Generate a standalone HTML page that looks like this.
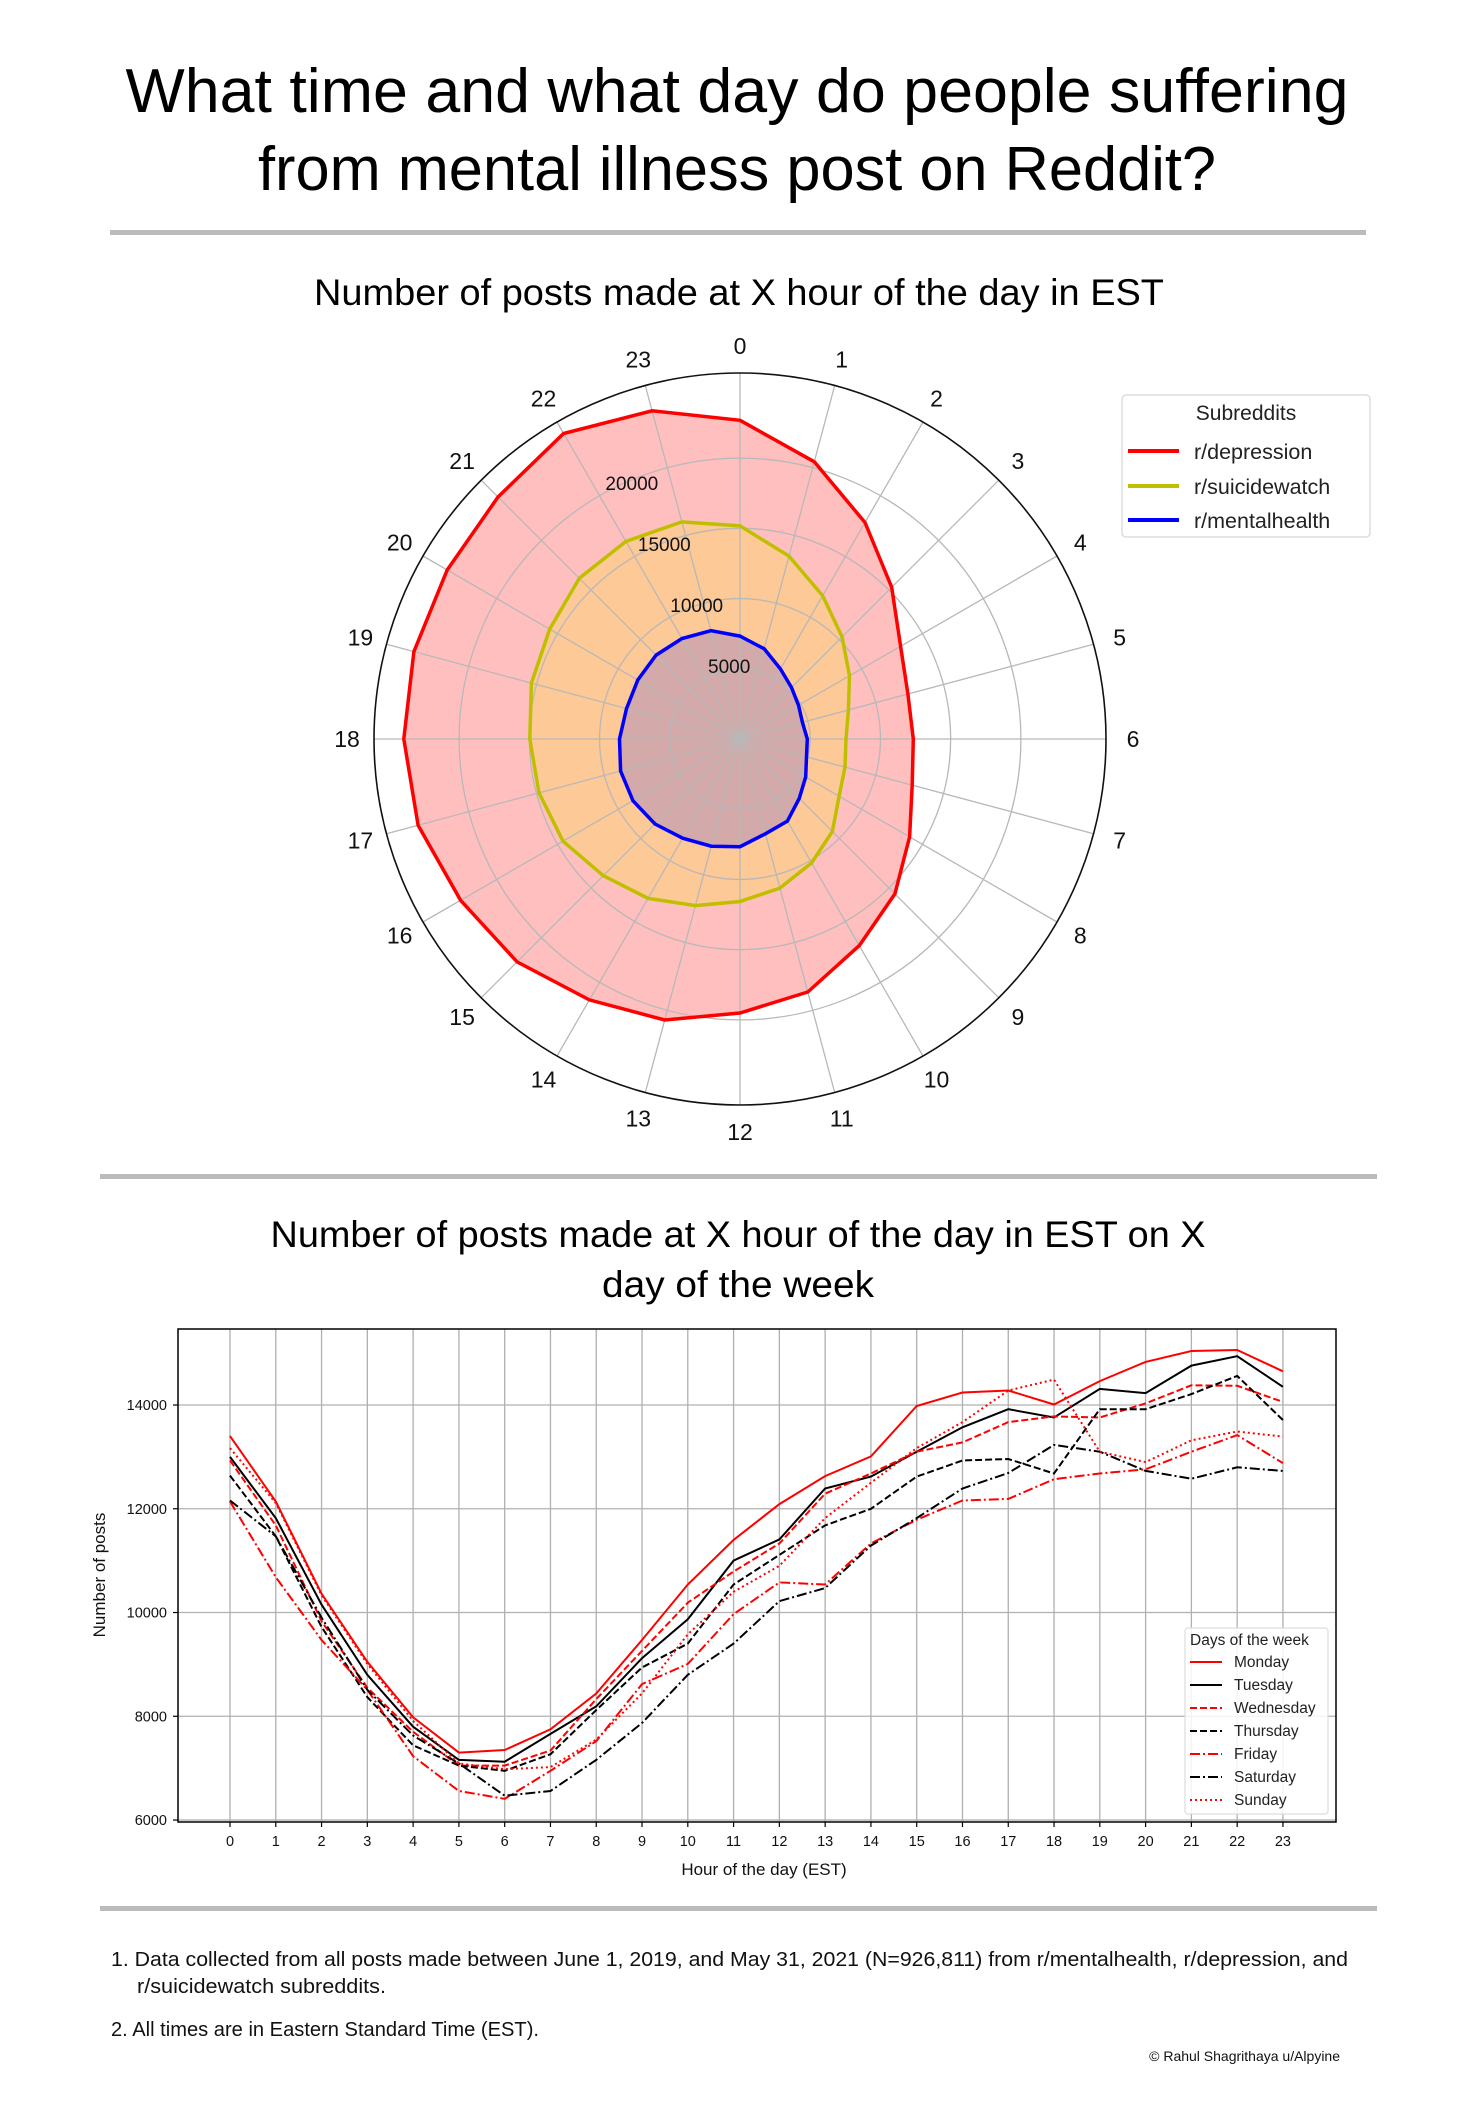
<!DOCTYPE html>
<html><head><meta charset="utf-8">
<style>
html,body{margin:0;padding:0;background:#fff;}
svg{display:block;font-family:"Liberation Sans","DejaVu Sans",sans-serif;}
</style></head>
<body>
<svg id="page" width="1476" height="2119" viewBox="0 0 1476 2119" xmlns="http://www.w3.org/2000/svg">
<rect x="0" y="0" width="1476" height="2119" fill="#fff"/>
<text x="737" y="112" text-anchor="middle" font-size="62" textLength="1223" lengthAdjust="spacingAndGlyphs" fill="#000">What time and what day do people suffering</text>
<text x="737" y="190" text-anchor="middle" font-size="62" textLength="958" lengthAdjust="spacingAndGlyphs" fill="#000">from mental illness post on Reddit?</text>
<rect x="110" y="230" width="1256" height="5" fill="#bbb"/>
<text x="739" y="305" text-anchor="middle" font-size="37" textLength="850" lengthAdjust="spacingAndGlyphs" fill="#000">Number of posts made at X hour of the day in EST</text>
<g id="radar"></g>
<g>
<rect x="1122" y="395" width="248" height="142" rx="4" fill="#fff" stroke="#ddd" stroke-width="1.5"/>
<text x="1246" y="420" text-anchor="middle" font-size="21" fill="#222">Subreddits</text>
<line x1="1128" y1="451" x2="1179" y2="451" stroke="#f00" stroke-width="4"/>
<text x="1194" y="459" font-size="21.5" fill="#222">r/depression</text>
<line x1="1128" y1="486" x2="1179" y2="486" stroke="#bfbf00" stroke-width="4"/>
<text x="1194" y="494" font-size="21.5" fill="#222">r/suicidewatch</text>
<line x1="1128" y1="520" x2="1179" y2="520" stroke="#00f" stroke-width="4"/>
<text x="1194" y="528" font-size="21.5" fill="#222">r/mentalhealth</text>
</g>
<rect x="100" y="1174" width="1277" height="5" fill="#bbb"/>
<text x="738" y="1247" text-anchor="middle" font-size="37" textLength="935" lengthAdjust="spacingAndGlyphs" fill="#000">Number of posts made at X hour of the day in EST on X</text>
<text x="738" y="1297" text-anchor="middle" font-size="37" textLength="272" lengthAdjust="spacingAndGlyphs" fill="#000">day of the week</text>
<g id="linechart"></g>
<g>
<rect x="1185" y="1628" width="143" height="186" rx="3" fill="#fff" fill-opacity="0.85" stroke="#ddd" stroke-width="1.2"/>
<text x="1190" y="1645" font-size="15.5" fill="#222">Days of the week</text>
<g id="lineLegendEntries"></g>
</g>
<rect x="100" y="1906" width="1277" height="5" fill="#bbb"/>
<text x="111" y="1966" font-size="20" textLength="1237" lengthAdjust="spacingAndGlyphs" fill="#111">1. Data collected from all posts made between June 1, 2019, and May 31, 2021 (N=926,811) from r/mentalhealth, r/depression, and</text>
<text x="137" y="1993" font-size="20" textLength="249" lengthAdjust="spacingAndGlyphs" fill="#111">r/suicidewatch subreddits.</text>
<text x="111" y="2036" font-size="20" textLength="428" lengthAdjust="spacingAndGlyphs" fill="#111">2. All times are in Eastern Standard Time (EST).</text>
<text x="1340" y="2061" text-anchor="end" font-size="14" fill="#111">© Rahul Shagrithaya u/Alpyine</text>
</svg>
<script>
// ---------- Radar chart data ----------
const radarHours = [0,1,2,3,4,5,6,7,8,9,10,11,12,13,14,15,16,17,18,19,20,21,22,23];
const depression = [22690,20430,17800,15280,13200,12380,12340,12690,13940,15600,16990,18650,19510,20710,21450,22440,22970,23730,23940,24040,24070,24370,25120,24190];
const suicidewatch = [15170,13480,11770,10280,9000,7990,7550,7740,8150,9300,10190,10990,11570,12280,13100,13770,14550,14820,14970,15380,15650,16180,16250,16000];
const mentalhealth = [7330,6650,5760,5190,4810,4600,4790,4900,5400,5970,6750,6990,7670,7900,8160,8560,8800,8800,8580,8370,8400,8450,8260,7980];
const ringValues = [5000,10000,15000,20000];
const ringLabels = ["5000","10000","15000","20000"];

// ---------- Line chart data ----------
const lineHours = [0,1,2,3,4,5,6,7,8,9,10,11,12,13,14,15,16,17,18,19,20,21,22,23];
const yTicks = [6000,8000,10000,12000,14000];
const yTickLabels = ["6000","8000","10000","12000","14000"];
const dayNames = ["Monday","Tuesday","Wednesday","Thursday","Friday","Saturday","Sunday"];
const monday = [13400,12140,10360,9050,7980,7300,7350,7750,8440,9470,10540,11400,12090,12630,13010,13980,14240,14280,14010,14460,14830,15040,15060,14650];
const tuesday = [13000,11820,10150,8800,7800,7160,7125,7660,8190,9120,9870,11000,11410,12390,12620,13100,13570,13920,13760,14310,14230,14760,14940,14350];
const wednesday = [12930,11680,9830,8550,7700,7050,7050,7340,8330,9260,10190,10790,11330,12290,12680,13100,13280,13670,13780,13760,14030,14380,14370,14060];
const thursday = [12640,11470,9720,8370,7440,7050,6950,7270,8120,8940,9400,10540,11110,11680,12000,12620,12930,12960,12680,13920,13920,14210,14560,13710];
const friday = [12140,10680,9470,8510,7230,6560,6410,6950,7520,8620,9010,9970,10580,10540,11330,11790,12160,12190,12570,12680,12760,13100,13420,12880];
const saturday = [12160,11470,9900,8510,7630,7090,6470,6560,7160,7870,8800,9400,10220,10470,11290,11820,12390,12690,13230,13100,12730,12580,12800,12730];
const sunday = [13170,12110,10330,9010,7910,7090,6980,7020,7550,8440,9580,10400,10900,11820,12500,13170,13670,14280,14490,13100,12900,13320,13490,13390];

const NS = "http://www.w3.org/2000/svg";
function mk(tag, attrs, parent){
  const e = document.createElementNS(NS, tag);
  for (const k in attrs) e.setAttribute(k, attrs[k]);
  parent.appendChild(e);
  return e;
}

// ---------- Radar ----------
(function(){
  const g = document.getElementById('radar');
  const cx = 740, cy = 739, R = 366, rMax = 26060;
  const rScale = v => v / rMax * R;
  const ang = h => (h / 24) * 2 * Math.PI;
  const pt = (h, r) => [cx + r * Math.sin(ang(h)), cy - r * Math.cos(ang(h))];

  const series = [
    {name:'depression', data:depression, stroke:'#ff0000', fill:'#ffbfbf'},
    {name:'suicidewatch', data:suicidewatch, stroke:'#bfbf00', fill:'#fdc996'},
    {name:'mentalhealth', data:mentalhealth, stroke:'#0000ff', fill:'#d3a9a9'}
  ];
  series.forEach(s => {
    const pts = radarHours.map((h,i) => pt(h, rScale(s.data[i])).map(n=>n.toFixed(1)).join(',')).join(' ');
    const p = mk('polygon', {points: pts, fill: s.fill, stroke: 'none'}, g);
    
    
  });
  ringValues.forEach(v => {
    const c = mk('circle', {cx:cx, cy:cy, r:rScale(v), fill:'none', stroke:'#b8b8b8', 'stroke-width':1.3}, g);
    
    
  });
  radarHours.forEach(h => {
    const [x,y] = pt(h, R);
    const l = mk('line', {x1:cx, y1:cy, x2:x.toFixed(1), y2:y.toFixed(1), stroke:'#b8b8b8', 'stroke-width':1.3}, g);
    
    
    const [tx,ty] = pt(h, R + 27);
    const t = mk('text', {x:tx.toFixed(1), y:(ty+8).toFixed(1), 'text-anchor':'middle', 'font-size':23, fill:'#111'}, g);
    t.textContent = String(h);
    
    
  });
  series.forEach(s => {
    const pts = radarHours.map((h,i) => pt(h, rScale(s.data[i])).map(n=>n.toFixed(1)).join(',')).join(' ');
    const p = mk('polygon', {points: pts, fill:'none', stroke:s.stroke, 'stroke-width':3.5, 'stroke-linejoin':'miter'}, g);
    
    
  });
  const oc = mk('circle', {cx:cx, cy:cy, r:R, fill:'none', stroke:'#111', 'stroke-width':1.6}, g);
  
  
  ringValues.forEach((v,i) => {
    const r = rScale(v);
    const t = mk('text', {x:(cx + 21.6 - 0.462*r).toFixed(1), y:(cy - 5 - 0.868*r).toFixed(1), 'text-anchor':'middle', 'font-size':19, fill:'#111'}, g);
    t.textContent = ringLabels[i];
    
    
  });
})();

// ---------- Line chart ----------
(function(){
  const g = document.getElementById('linechart');
  const L = 178, Rr = 1336, T = 1329, B = 1822;
  const xS = h => 230 + h * 45.78;
  const yS = v => 1405 + (14000 - v) * 0.05188;
  lineHours.forEach(h => {
    const l = mk('line', {x1:xS(h), y1:T, x2:xS(h), y2:B, stroke:'#b0b0b0', 'stroke-width':1.3}, g);
    
    
    const tk = mk('line', {x1:xS(h), y1:B, x2:xS(h), y2:B+5, stroke:'#000', 'stroke-width':1.2}, g);
    
    
    const t = mk('text', {x:xS(h), y:1846, 'text-anchor':'middle', 'font-size':14.5, fill:'#111'}, g);
    t.textContent = String(h);
    
    
  });
  yTicks.forEach((v,i) => {
    const l = mk('line', {x1:L, y1:yS(v), x2:Rr, y2:yS(v), stroke:'#b0b0b0', 'stroke-width':1.3}, g);
    
    
    const tk = mk('line', {x1:L-5, y1:yS(v), x2:L, y2:yS(v), stroke:'#000', 'stroke-width':1.2}, g);
    
    
    const t = mk('text', {x:167, y:yS(v)+5, 'text-anchor':'end', 'font-size':14.5, fill:'#111'}, g);
    t.textContent = yTickLabels[i];
    
    
  });
  const frame = mk('rect', {x:L, y:T, width:Rr-L, height:B-T, fill:'none', stroke:'#000', 'stroke-width':1.5}, g);
  
  
  const styles = [
    {d:monday, c:'#ff0000', dash:''},
    {d:tuesday, c:'#000000', dash:''},
    {d:wednesday, c:'#ff0000', dash:'7,3'},
    {d:thursday, c:'#000000', dash:'7,3'},
    {d:friday, c:'#ff0000', dash:'10,3,2,3'},
    {d:saturday, c:'#000000', dash:'10,3,2,3'},
    {d:sunday, c:'#ff0000', dash:'2,3'}
  ];
  styles.forEach((s,i) => {
    const pts = lineHours.map((h,j) => xS(h).toFixed(1) + ',' + yS(s.d[j]).toFixed(1)).join(' ');
    const attrs = {points:pts, fill:'none', stroke:s.c, 'stroke-width':2};
    if (s.dash) attrs['stroke-dasharray'] = s.dash;
    const p = mk('polyline', attrs, g);
    
    
  });
  const yt = mk('text', {x:0, y:0, 'text-anchor':'middle', 'font-size':17, fill:'#111', transform:'translate(105,1575) rotate(-90)'}, g);
  yt.textContent = 'Number of posts';
  
  
  const xt = mk('text', {x:764, y:1875, 'text-anchor':'middle', 'font-size':17, fill:'#111'}, g);
  xt.textContent = 'Hour of the day (EST)';
  
  
  const lg = document.getElementById('lineLegendEntries');
  const ys = [1662,1685,1708,1731,1754,1777,1800];
  styles.forEach((s,i) => {
    const a = {x1:1190, y1:ys[i], x2:1222, y2:ys[i], stroke:s.c, 'stroke-width':2};
    if (s.dash) a['stroke-dasharray'] = s.dash;
    const l = mk('line', a, lg);
    
    
    const t = mk('text', {x:1234, y:ys[i]+5, 'font-size':15.5, fill:'#222'}, lg);
    t.textContent = dayNames[i];
    
    
  });
})();
</script>
</body></html>
